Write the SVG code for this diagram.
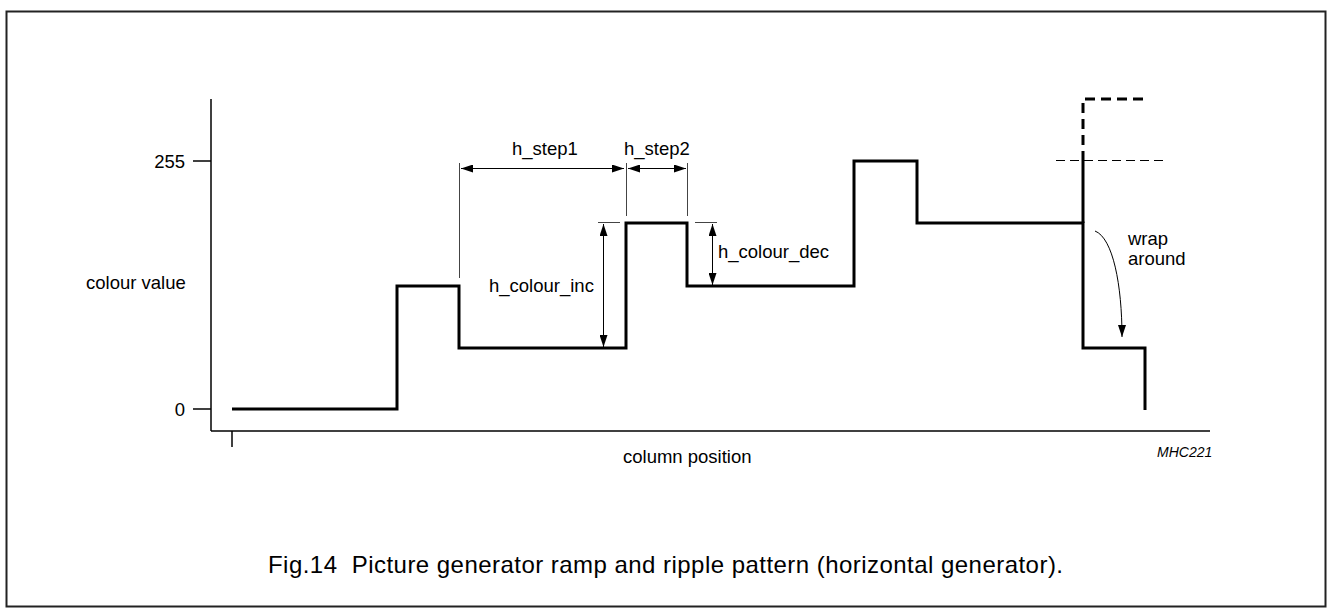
<svg xmlns="http://www.w3.org/2000/svg" width="1327" height="608" viewBox="0 0 1327 608">
<style>
text{font-family:"Liberation Sans",Arial,sans-serif;font-size:18.5px;fill:#000}
.sig{fill:none;stroke:#000;stroke-width:3;stroke-linejoin:miter}
.ax{fill:none;stroke:#000;stroke-width:1.5}
.dim{fill:none;stroke:#000;stroke-width:1}
.ext{fill:none;stroke:#444;stroke-width:1}
</style>
<defs>
<marker id="ah" viewBox="0 0 12 8" refX="12" refY="4" markerWidth="12" markerHeight="8" markerUnits="userSpaceOnUse" orient="auto-start-reverse">
<path d="M0,0 L12,4 L0,8 z" fill="#000"/>
</marker>
</defs>
<rect x="6.5" y="11.5" width="1319" height="595" fill="#fff" stroke="#222" stroke-width="2"/>
<g id="axes">
<line class="ax" x1="211" y1="99" x2="211" y2="431"/>
<line class="ax" x1="211" y1="431" x2="1210" y2="431"/>
<line class="ax" x1="232" y1="431" x2="232" y2="447"/>
<line class="ax" x1="193" y1="161" x2="211" y2="161"/>
<line class="ax" x1="193" y1="409" x2="211" y2="409"/>
<text x="185" y="168" text-anchor="end">255</text>
<text x="185" y="416" text-anchor="end">0</text>
<text x="86" y="289">colour value</text>
<text x="623" y="463">column position</text>
<text x="1157" y="457" style="font-size:14px;font-style:italic">MHC221</text>
</g>
<g id="signal">
<path class="sig" d="M232,409 H397 V286 H459 V348 H626 V223 H687 V286 H854 V161 H917 V223 H1083 V348 H1145 V410"/>
<line class="sig" x1="1083" y1="223" x2="1083" y2="161"/>
<path class="sig" d="M1083,161 V99 H1147" stroke-dasharray="10 6"/>
<line class="dim" x1="1056" y1="160.5" x2="1164" y2="160.5" stroke-dasharray="9 5" stroke-width="1.2"/>
</g>
<g id="connectors">
<line class="ext" x1="459.5" y1="163" x2="459.5" y2="278"/>
<line class="ext" x1="626.5" y1="163" x2="626.5" y2="216"/>
<line class="ext" x1="687.5" y1="163" x2="687.5" y2="216"/>
<line class="dim" x1="461" y1="168.5" x2="624" y2="168.5" marker-start="url(#ah)" marker-end="url(#ah)"/>
<line class="dim" x1="628" y1="168.5" x2="686" y2="168.5" marker-start="url(#ah)" marker-end="url(#ah)"/>
<line class="ext" x1="598" y1="222.5" x2="620" y2="222.5"/>
<line class="dim" x1="603.5" y1="224" x2="603.5" y2="347" marker-start="url(#ah)" marker-end="url(#ah)"/>
<line class="ext" x1="695" y1="222.5" x2="717" y2="222.5"/>
<line class="dim" x1="712.5" y1="224" x2="712.5" y2="285" marker-start="url(#ah)" marker-end="url(#ah)"/>
<path class="dim" d="M1095,231 C1113,238 1122,285 1122,337" marker-end="url(#ah)"/>
</g>
<g id="labels">
<text x="512" y="155">h_step1</text>
<text x="624" y="155">h_step2</text>
<text x="489" y="292">h_colour_inc</text>
<text x="718" y="258">h_colour_dec</text>
<text x="1128" y="245">wrap</text>
<text x="1128" y="265">around</text>
<text x="268" y="573" style="font-size:24px" xml:space="preserve" textLength="795">Fig.14  Picture generator ramp and ripple pattern (horizontal generator).</text>
</g>
</svg>
